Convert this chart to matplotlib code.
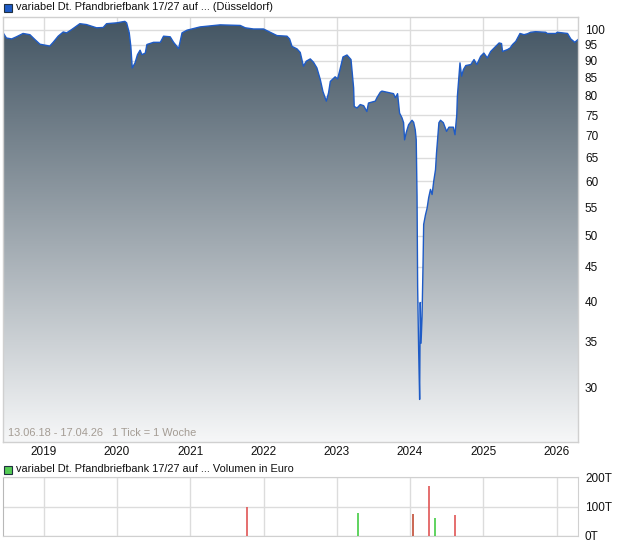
import pandas as pd
import numpy as np
import matplotlib
matplotlib.use('Agg')
import matplotlib.pyplot as plt
from matplotlib.patches import Rectangle
from matplotlib.ticker import FixedLocator, FixedFormatter, NullLocator

plt.rcParams['font.family'] = ['Liberation Sans', 'DejaVu Sans']

# Kursverlauf
price_dates = [
    '2018-06-13', '2018-06-30', '2018-07-26', '2018-08-19', '2018-09-21', '2018-10-25',
    '2018-11-19', '2018-12-14', '2019-02-01', '2019-02-18', '2019-03-15', '2019-04-09',
    '2019-04-26', '2019-05-21', '2019-07-01', '2019-08-03', '2019-09-22', '2019-10-25',
    '2019-11-11', '2020-01-01', '2020-02-10', '2020-02-19', '2020-03-03', '2020-03-11',
    '2020-03-18', '2020-04-01', '2020-04-13', '2020-04-26', '2020-05-05', '2020-05-22',
    '2020-05-30', '2020-07-02', '2020-08-05', '2020-08-21', '2020-09-23', '2020-10-10',
    '2020-11-04', '2020-11-21', '2020-12-16', '2021-02-19', '2021-05-30', '2021-09-07',
    '2021-10-02', '2021-11-12', '2022-01-01', '2022-02-03', '2022-03-09', '2022-04-28',
    '2022-05-11', '2022-05-23', '2022-06-17', '2022-07-03', '2022-07-19', '2022-08-02',
    '2022-08-22', '2022-09-07', '2022-09-24', '2022-10-11', '2022-10-24', '2022-11-10',
    '2022-11-21', '2022-11-30', '2022-12-24', '2023-01-05', '2023-01-15', '2023-02-01',
    '2023-02-21', '2023-03-13', '2023-03-26', '2023-03-29', '2023-04-12', '2023-04-28',
    '2023-05-15', '2023-05-31', '2023-06-08', '2023-07-12', '2023-07-20', '2023-08-06',
    '2023-08-14', '2023-10-11', '2023-10-20', '2023-10-31', '2023-11-10', '2023-11-22',
    '2023-11-30', '2023-12-05', '2023-12-13', '2023-12-25', '2024-01-03', '2024-01-11',
    '2024-01-19', '2024-01-27', '2024-02-01', '2024-02-05', '2024-02-08', '2024-02-13',
    '2024-02-18', '2024-02-21', '2024-02-25', '2024-03-01', '2024-03-06', '2024-03-09',
    '2024-03-18', '2024-03-26', '2024-04-03', '2024-04-12', '2024-04-20', '2024-04-28',
    '2024-05-07', '2024-05-12', '2024-05-19', '2024-05-24', '2024-06-01', '2024-06-15',
    '2024-07-01', '2024-07-13', '2024-08-04', '2024-08-12', '2024-08-21', '2024-08-24',
    '2024-09-01', '2024-09-06', '2024-09-14', '2024-09-23', '2024-10-05', '2024-10-30',
    '2024-11-15', '2024-11-29', '2024-12-18', '2025-01-03', '2025-01-20', '2025-02-06',
    '2025-03-03', '2025-03-20', '2025-04-01', '2025-04-06', '2025-05-01', '2025-05-14',
    '2025-05-26', '2025-06-11', '2025-07-02', '2025-07-22', '2025-08-08', '2025-08-24',
    '2025-09-18', '2025-11-07', '2025-11-15', '2025-12-27', '2026-01-04', '2026-01-29',
    '2026-02-24', '2026-03-12', '2026-04-01', '2026-04-17',
]
price_values = [
    99.0, 97.2, 96.9, 97.6, 98.7, 98.3,
    96.7, 95.2, 94.6, 95.8, 97.8, 99.2,
    98.9, 100.0, 102.0, 101.7, 100.6, 100.7,
    102.0, 102.3, 102.8, 102.3, 98.9, 94.5,
    87.9, 89.4, 91.9, 93.3, 91.9, 92.4,
    95.1, 95.8, 95.8, 97.8, 97.6, 95.8,
    93.8, 98.9, 99.8, 100.9, 101.6, 101.4,
    100.6, 100.2, 100.2, 99.1, 98.0, 97.8,
    96.9, 94.5, 93.7, 92.6, 88.4, 89.9,
    90.6, 89.6, 87.9, 84.5, 81.2, 78.6,
    80.8, 84.0, 85.3, 84.7, 86.9, 91.2,
    91.8, 90.4, 82.2, 77.2, 76.8, 77.7,
    77.4, 75.9, 78.1, 78.6, 79.5, 81.0,
    81.3, 80.6, 79.5, 80.6, 75.5, 74.3,
    73.1, 69.0, 70.7, 72.6, 73.2, 73.7,
    73.2, 71.4, 69.0, 57.1, 42.1, 34.0,
    28.8, 39.9, 34.8, 38.1, 45.6, 51.9,
    53.6, 54.8, 56.8, 58.4, 57.4, 60.0,
    62.4, 66.0, 70.2, 73.1, 73.7, 73.1,
    71.0, 72.0, 72.0, 70.2, 75.1, 79.9,
    85.5, 89.4, 85.5, 87.4, 88.6, 88.9,
    90.4, 88.9, 91.4, 92.4, 90.9, 92.9,
    94.5, 95.6, 95.4, 92.9, 93.5, 94.0,
    95.1, 96.1, 98.7, 98.3, 98.6, 99.1,
    99.3, 99.1, 98.7, 98.7, 99.1, 98.9,
    98.7, 96.9, 95.8, 96.7,
]

# Volumen in Euro
vol_dates = ['2021-10-12', '2023-04-15', '2024-01-14', '2024-01-17', '2024-04-03', '2024-05-03', '2024-08-11']
vol_values = [100000, 77000, 75000, 75000, 170000, 62000, 72000]
vol_up = [False, True, True, False, False, True, False]

y_ticks = [30, 35, 40, 45, 50, 55, 60, 65, 70, 75, 80, 85, 90, 95, 100]
years = [2019, 2020, 2021, 2022, 2023, 2024, 2025, 2026]

title_price = 'variabel Dt. Pfandbriefbank 17/27 auf ... (Düsseldorf)'
title_vol = 'variabel Dt. Pfandbriefbank 17/27 auf ... Volumen in Euro'
range_text = '13.06.18 - 17.04.26   1 Tick = 1 Woche'

pd_dates = pd.to_datetime(price_dates)
vd = pd.to_datetime(vol_dates)
year_ticks = pd.to_datetime([f'{y}-01-01' for y in years])

W, H = 620, 546
fig = plt.figure(figsize=(W / 100, H / 100), dpi=100)

grid_c = '#dcdcdc'
line_c = '#1e5bc6'

# Kurs-Chart
ax = fig.add_axes([3 / W, 1 - 441.5 / H, 575 / W, 425 / H])
ax.set_yscale('log')
ax.grid(True, color=grid_c, lw=1, zorder=0)
ax.set_axisbelow(True)

fill = ax.fill_between(pd_dates, price_values, 1, facecolor='none', edgecolor='none')
grad = np.linspace(0, 1, 256).reshape(-1, 1)
top = np.array([0x42, 0x54, 0x62]) / 255
bot = np.array([0xf6, 0xf7, 0xf8]) / 255
img = top + (bot - top) * grad[:, :, None]
# Zeile 0 oben (dunkel), unten hell
im = ax.imshow(img.reshape(256, 1, 3), extent=[0, 1, 0, 1], origin='upper', transform=ax.transAxes,
               aspect='auto', zorder=1, interpolation='bilinear')
im.set_clip_path(fill.get_paths()[0], transform=ax.transData)
ax.plot(pd_dates, price_values, color=line_c, lw=1.0, zorder=2)

ax.set_xlim(pd.Timestamp('2018-06-13'), pd.Timestamp('2026-04-17'))
ax.set_ylim(25.0, 104.5)
ax.yaxis.tick_right()
ax.yaxis.set_major_locator(FixedLocator(y_ticks))
ax.yaxis.set_major_formatter(FixedFormatter([str(t) for t in y_ticks]))
ax.yaxis.set_minor_locator(NullLocator())
ax.set_xticks(year_ticks)
ax.set_xticklabels([str(y) for y in years])
ax.tick_params(axis='both', length=0, labelsize=8.5, colors='#111111')
ax.tick_params(axis='y', pad=5)
ax.tick_params(axis='x', pad=3)
for s in ax.spines.values():
    s.set_color('#d0d0d0')
    s.set_linewidth(1)
ax.text(0.008, 0.012, range_text, transform=ax.transAxes, color='#a49c94', fontsize=7.9, zorder=5)

# Volumen-Chart
av = fig.add_axes([3 / W, 1 - 536 / H, 575 / W, 58.7 / H])
av.set_xlim(pd.Timestamp('2018-06-13'), pd.Timestamp('2026-04-17'))
av.set_ylim(0, 200000)
av.set_xticks(year_ticks)
av.set_yticks([0, 100000, 200000])
av.set_yticklabels(['0T', '100T', '200T'])
av.yaxis.tick_right()
av.grid(True, color=grid_c, lw=1, zorder=0)
av.tick_params(axis='x', labelbottom=False, length=0)
av.tick_params(axis='y', length=0, labelsize=8.5, pad=5, colors='#111111')
for s in av.spines.values():
    s.set_color('#d0d0d0')
av.spines['left'].set_color('#b8b8b8')
colors = ['#44cc44' if up else '#e05555' for up in vol_up]
av.vlines(vd, 0, vol_values, colors=colors, lw=1.2, zorder=3)

# Legenden
fig.patches.append(Rectangle((4 / W, 1 - 12 / H), 8 / W, 8 / H, transform=fig.transFigure,
                             facecolor='#1e5bc6', edgecolor='#203040', lw=0.8))
fig.text(16 / W, 1 - 7.5 / H, title_price, fontsize=7.9, va='center', ha='left', color='#111111')
fig.patches.append(Rectangle((4 / W, 1 - 473.5 / H), 8 / W, 8 / H, transform=fig.transFigure,
                             facecolor='#55cc55', edgecolor='#203040', lw=0.8))
fig.text(16 / W, 1 - 469 / H, title_vol, fontsize=7.9, va='center', ha='left', color='#111111')

fig.savefig('out.png', dpi=100)
